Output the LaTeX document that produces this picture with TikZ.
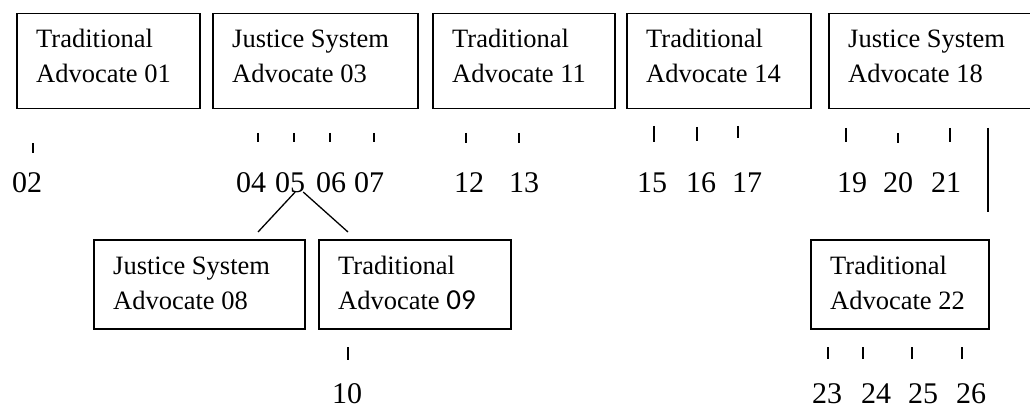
\documentclass[tikz,border=0pt]{standalone}
\usepackage{fontspec}
\setmainfont{Liberation Serif}
\newfontfamily\sansdigits{Carlito}
\begin{document}
\begin{tikzpicture}[x=1pt,y=-1pt,
  box/.style={draw, line width=1.5pt, rectangle, inner sep=0pt, anchor=north west},
  txt/.style={inner sep=0pt, anchor=base west, font=\fontsize{26.5}{35}\selectfont},
  num/.style={inner sep=0pt, anchor=base west, font=\fontsize{30}{35}\selectfont},
  tick/.style={line width=1.3pt},
  link/.style={line width=1.3pt}]
\useasboundingbox (0,0) rectangle (1030,409);
\clip (0,0) rectangle (1030,409);

% advocate boxes: name, x1, y1, x2, y2, first line, second line
\newcommand{\advbox}[7]{%
  \node[box, minimum width={#4-#2}, minimum height={#5-#3}] (#1) at (#2,#3) {};
  \node[txt] (#1-a) at ({#2+20},{#3+35}) {#6};
  \node[txt] (#1-b) at ({#2+20},{#3+70}) {#7};
}
\advbox{b01}{16}{13}{199}{108}{Traditional}{Advocate 01}
\advbox{b03}{212}{13}{417}{108}{Justice System}{Advocate 03}
\advbox{b11}{432}{13}{614}{108}{Traditional}{Advocate 11}
\advbox{b14}{626}{13}{810}{108}{Traditional}{Advocate 14}
\advbox{b18}{828}{13}{1040}{108}{Justice System}{Advocate 18}
\advbox{b08}{93}{239}{304}{328}{Justice System}{Advocate 08}
\advbox{b09}{318}{239}{510}{328}{Traditional}{Advocate {\sansdigits\fontsize{29}{35}\selectfont 09}}
\advbox{b22}{810}{239}{988}{328}{Traditional}{Advocate 22}

% numbered members (left edge, baseline)
\foreach \n/\x in {02/12,04/236,05/275,06/316,07/354,12/454,13/509,15/637,16/686,17/732,19/837,20/883,21/931}
  \node[num] (n\n) at (\x,192) {\n};
\foreach \n/\x in {10/332,23/812,24/861,25/908,26/956}
  \node[num] (n\n) at (\x,403) {\n};

% short ticks above the numbers
\foreach \x/\a/\b in {33/143/153,258/133/142,294/133/142,330/133/142,374/133/142,
  466/133/143,519/133/143,654/126/142,697/127/141,738/126/138,
  846/128/142,898/133/143,950/128/142,
  348/347/360,828/347/359,863/347/359,912/347/359,962/347/359}
  \draw[tick] (\x,\a) -- (\x,\b);

% long vertical rule between 18 and 22
\coordinate (v1) at (988,128);
\coordinate (v2) at (988,212);
\draw[tick] (v1) -- (v2);

% 05 branches to 08 and 09
\coordinate (c08) at (258,232);
\coordinate (c09) at (348,232);
\draw[link] ([xshift=5pt]n05.base) -- (c08);
\draw[link] ([xshift=13pt]n05.base) -- (c09);
\end{tikzpicture}
\end{document}
